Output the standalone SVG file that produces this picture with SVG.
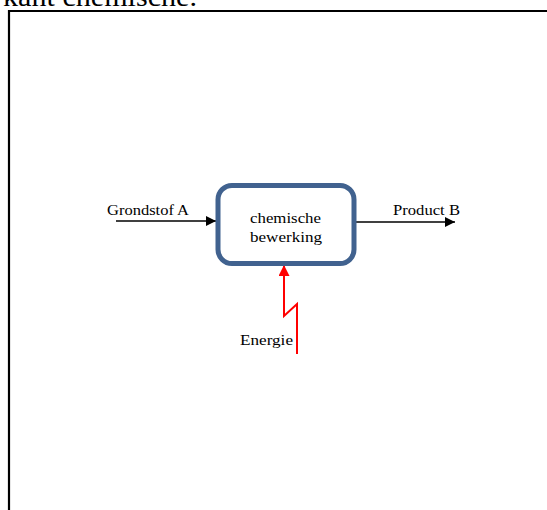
<svg xmlns="http://www.w3.org/2000/svg" width="547" height="510" viewBox="0 0 547 510">
<defs>
<style>
text{font-family:"Liberation Serif","DejaVu Serif",serif;fill:#000}
.lbl{font-size:15px}
.flow{stroke:#000;stroke-width:1.6;fill:none}
</style>
<marker id="ab" viewBox="0 0 10 10" refX="10" refY="5" markerWidth="10" markerHeight="10" markerUnits="userSpaceOnUse" orient="auto"><path d="M0,0 L10,5 L0,10 z" fill="#000"/></marker>
<marker id="ar" viewBox="0 0 10 10" refX="10" refY="5" markerWidth="14" markerHeight="11" markerUnits="userSpaceOnUse" orient="auto"><path d="M0,0 L10,5 L0,10 z" fill="#f00"/></marker>
</defs>
<rect width="547" height="510" fill="#fff"/>
<text x="3" y="5.7" style="font-size:28px" textLength="194" lengthAdjust="spacingAndGlyphs">kant chemische.</text>
<path d="M9,512 V11 H547" fill="none" stroke="#000" stroke-width="2.2"/>
<g id="connectors">
<line class="flow" x1="116" y1="221" x2="216" y2="221" marker-end="url(#ab)"/>
<line class="flow" x1="355" y1="222" x2="455" y2="222" marker-end="url(#ab)"/>
<path d="M297,354 V304 L284,316 V265" fill="none" stroke="#f00" stroke-width="2" marker-end="url(#ar)"/>
</g>
<g id="grondstof"><text class="lbl" x="107" y="215" textLength="82" lengthAdjust="spacingAndGlyphs">Grondstof A</text></g>
<g id="product"><text class="lbl" x="393" y="215" textLength="67" lengthAdjust="spacingAndGlyphs">Product B</text></g>
<g id="energie"><text class="lbl" x="240" y="345" textLength="53" lengthAdjust="spacingAndGlyphs">Energie</text></g>
<g id="bewerking">
<rect x="218" y="185.5" width="136" height="78" rx="14" fill="#fff" stroke="#41628f" stroke-width="5"/>
<text class="lbl" x="250" y="223" textLength="71" lengthAdjust="spacingAndGlyphs">chemische</text>
<text class="lbl" x="250" y="242" textLength="72" lengthAdjust="spacingAndGlyphs">bewerking</text>
</g>
</svg>
